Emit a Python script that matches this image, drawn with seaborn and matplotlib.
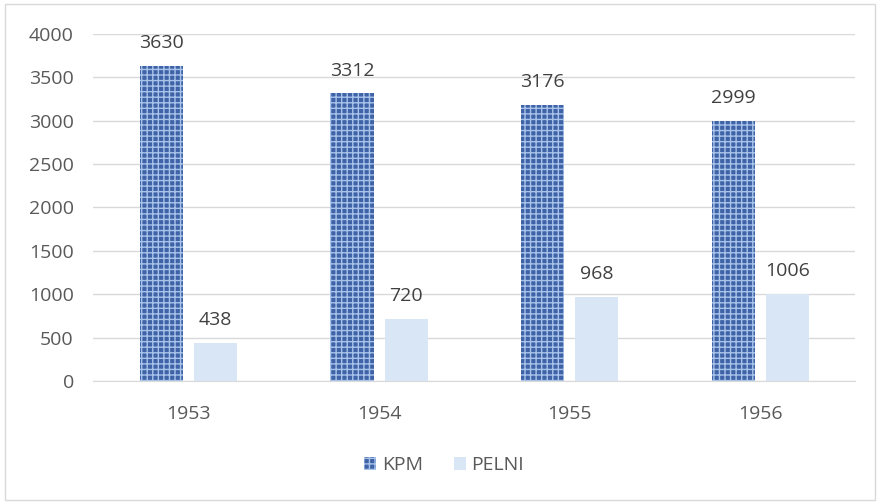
import matplotlib
matplotlib.use("Agg")
import matplotlib.pyplot as plt
import seaborn as sns
import pandas as pd
from matplotlib.patches import Rectangle, Patch

years = ["1953", "1954", "1955", "1956"]
kpm = [3630, 3312, 3176, 2999]
pelni = [438, 720, 968, 1006]
series = ["KPM", "PELNI"]

df = pd.DataFrame({
    "year": years * 2,
    "value": kpm + pelni,
    "series": ["KPM"] * len(years) + ["PELNI"] * len(years),
})

sns.set_style("white")
plt.rcParams["font.family"] = ["Open Sans", "DejaVu Sans"]
plt.rcParams["hatch.linewidth"] = 1.0

text_col = "#595959"
colors = {"KPM": "#3f63a6", "PELNI": "#d8e6f6"}

fig = plt.figure(figsize=(8.8, 5.04), dpi=100)
ax = fig.add_axes([0.106, 0.244, 0.866, 0.689])

sns.barplot(data=df, x="year", y="value", hue="series", palette=colors,
            width=0.568, gap=0.204, ax=ax, legend=False, saturation=1)

# texture on KPM bars
for bar in ax.patches[:len(years)]:
    bar.set_hatch("+++")
    bar.set_edgecolor("#a8c3ea")
    bar.set_linewidth(0)
for bar in ax.patches[len(years):]:
    bar.set_linewidth(0)

for cont in ax.containers:
    ax.bar_label(cont, fmt="%d", padding=10, fontsize=14, color="#404040")

ax.set_ylim(0, 4000)
ax.set_yticks(range(0, 4001, 500))
ax.set_xlim(-0.5, 3.5)
ax.yaxis.grid(True, color="#d9d9d9", linewidth=1)
ax.set_axisbelow(True)
for s in ["top", "right", "left"]:
    ax.spines[s].set_visible(False)
ax.spines["bottom"].set_color("#d9d9d9")
ax.tick_params(axis="both", length=0, labelsize=14, colors=text_col)
ax.tick_params(axis="x", pad=17)
ax.tick_params(axis="y", pad=14)
ax.set_xlabel("")
ax.set_ylabel("")

handles = [Patch(facecolor=colors["KPM"], hatch="+++", edgecolor="#a8c3ea", linewidth=0),
           Patch(facecolor=colors["PELNI"], linewidth=0)]
fig.legend(handles, series, loc="center", bbox_to_anchor=(0.505, 0.077), ncol=2,
           frameon=False, fontsize=14, labelcolor=text_col, handlelength=0.6,
           handleheight=0.6, handletextpad=0.3, columnspacing=1.6)

fig.patches.append(Rectangle((0.006, 0.008), 0.988, 0.984, transform=fig.transFigure,
                             fill=False, edgecolor="#d9d9d9", linewidth=1))

fig.savefig("out.png", dpi=100)
